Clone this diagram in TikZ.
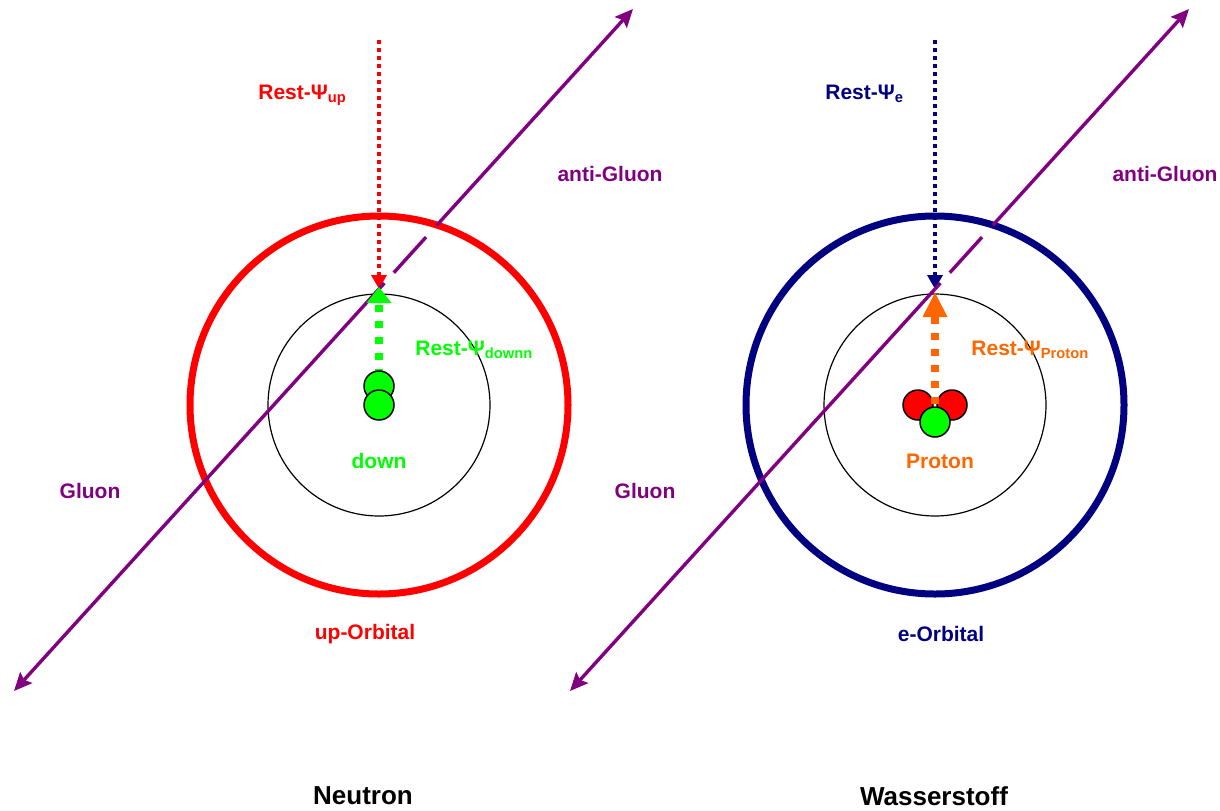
\documentclass[tikz,border=0pt]{standalone}
\usepackage{fontspec}
\setmainfont{Liberation Sans}
\usetikzlibrary{arrows.meta}
\definecolor{gluonpurple}{HTML}{800080}
\definecolor{upred}{HTML}{FF0000}
\definecolor{enavy}{HTML}{000080}
\definecolor{downgreen}{HTML}{00FF00}
\definecolor{protorange}{HTML}{FF6600}

\begin{document}
\begin{tikzpicture}[x=0.5pt, y=-0.5pt, font=\bfseries\fontsize{10.5}{12}\selectfont]
    \tikzset{quark/.style={circle,draw=black,line width=0.75pt,minimum size=15pt,inner sep=0pt},
      gluon/.style={gluonpurple,line width=1.7pt},
      gtip/.tip={Stealth[length=9pt,width=8pt,inset=1.5pt]},
      restpsi/.style={line width=2pt,dash pattern=on 2pt off 2pt,-{Triangle[length=7pt,width=7.5pt]}},
      spin/.style={line width=4pt,dash pattern=on 3.7pt off 4.3pt},
      orbital/.style={line width=3.5pt},
      txt/.style={inner sep=0pt},
      title/.style={inner sep=0pt,font=\bfseries\fontsize{13}{15}\selectfont}}
    \useasboundingbox (0,0) rectangle (1220,810);

    % Neutron - orbitals
    \draw[line width=0.6pt] (379,405) circle[radius=55.5pt];
    \draw[upred, orbital] (379,405) circle[radius=94.5pt];

    % Neutron - gluon line
    \coordinate (gluonL) at (14,691);
    \coordinate (innerL) at (379,289);
    \coordinate (outerL) at (437,225);
    \coordinate (antiL) at (633,9);
    \coordinate (restupTop) at (379,40);

    \draw[upred, restpsi] (restupTop) -- (innerL);
    \draw[gluon, {gtip}-] (gluonL) -- (innerL);
    \draw[gluon, dash pattern=on 4pt off 7pt on 24pt off 8pt] (innerL) -- (outerL);
    \draw[gluon, -{gtip}] (outerL) -- (antiL);

    % Neutron - down quark
    \coordinate (downTop) at (379,376);
    \draw[downgreen, spin, -{Triangle[length=8pt,width=12pt]}] (downTop) -- (379,287);
    \node[quark, fill=downgreen] (down1) at (379,386) {};
    \node[quark, fill=downgreen] (down2) at (379,405) {};

    % Neutron - labels
    \node[txt, upred, anchor=base west] (restup) at (258,99) {Rest-Ψ\textsubscript{up}};
    \node[txt, downgreen, anchor=base west] (restdown) at (415,355) {Rest-Ψ\textsubscript{downn}};
    \node[txt, gluonpurple] (antigluonL) at (610,174) {anti-Gluon};
    \node[txt, gluonpurple] (gluonlblL) at (90,491) {Gluon};
    \node[txt, downgreen] (downlbl) at (379,461) {down};
    \node[txt, upred] (uporb) at (365,634) {up-Orbital};
    \node[title] (neutron) at (363,796) {Neutron};

    % Wasserstoff - orbitals
    \draw[line width=0.6pt] (935,405) circle[radius=55.5pt];
    \draw[enavy, orbital] (935,405) circle[radius=94.5pt];

    % Wasserstoff - gluon line
    \coordinate (gluonR) at (570,691);
    \coordinate (innerR) at (935,289);
    \coordinate (outerR) at (993,225);
    \coordinate (antiR) at (1189,9);
    \coordinate (resteTop) at (935,40);

    \draw[enavy, restpsi] (resteTop) -- (innerR);
    \draw[gluon, {gtip}-] (gluonR) -- (innerR);
    \draw[gluon, dash pattern=on 4pt off 7pt on 24pt off 8pt] (innerR) -- (outerR);
    \draw[gluon, -{gtip}] (outerR) -- (antiR);

    % Wasserstoff - proton
    \node[quark, fill=upred] (up1) at (918,405) {};
    \node[quark, fill=upred] (up2) at (952,405) {};
    \draw[protorange, spin, -{Triangle[length=12.5pt,width=11.5pt]}] (935,404) -- (935,292);
    \node[quark, fill=downgreen] (down3) at (935,422) {};

    % Wasserstoff - labels
    \node[txt, enavy, anchor=base west] (reste) at (825,99) {Rest-Ψ\textsubscript{e}};
    \node[txt, protorange, anchor=base west] (restproton) at (971,355) {Rest-Ψ\textsubscript{Proton}};
    \node[txt, gluonpurple] (antigluonR) at (1165,174) {anti-Gluon};
    \node[txt, gluonpurple] (gluonlblR) at (645,491) {Gluon};
    \node[txt, protorange] (protonlbl) at (940,461) {Proton};
    \node[txt, enavy] (eorb) at (941,634) {e-Orbital};
    \node[title] (wasserstoff) at (934,796) {Wasserstoff};
\end{tikzpicture}
\end{document}
